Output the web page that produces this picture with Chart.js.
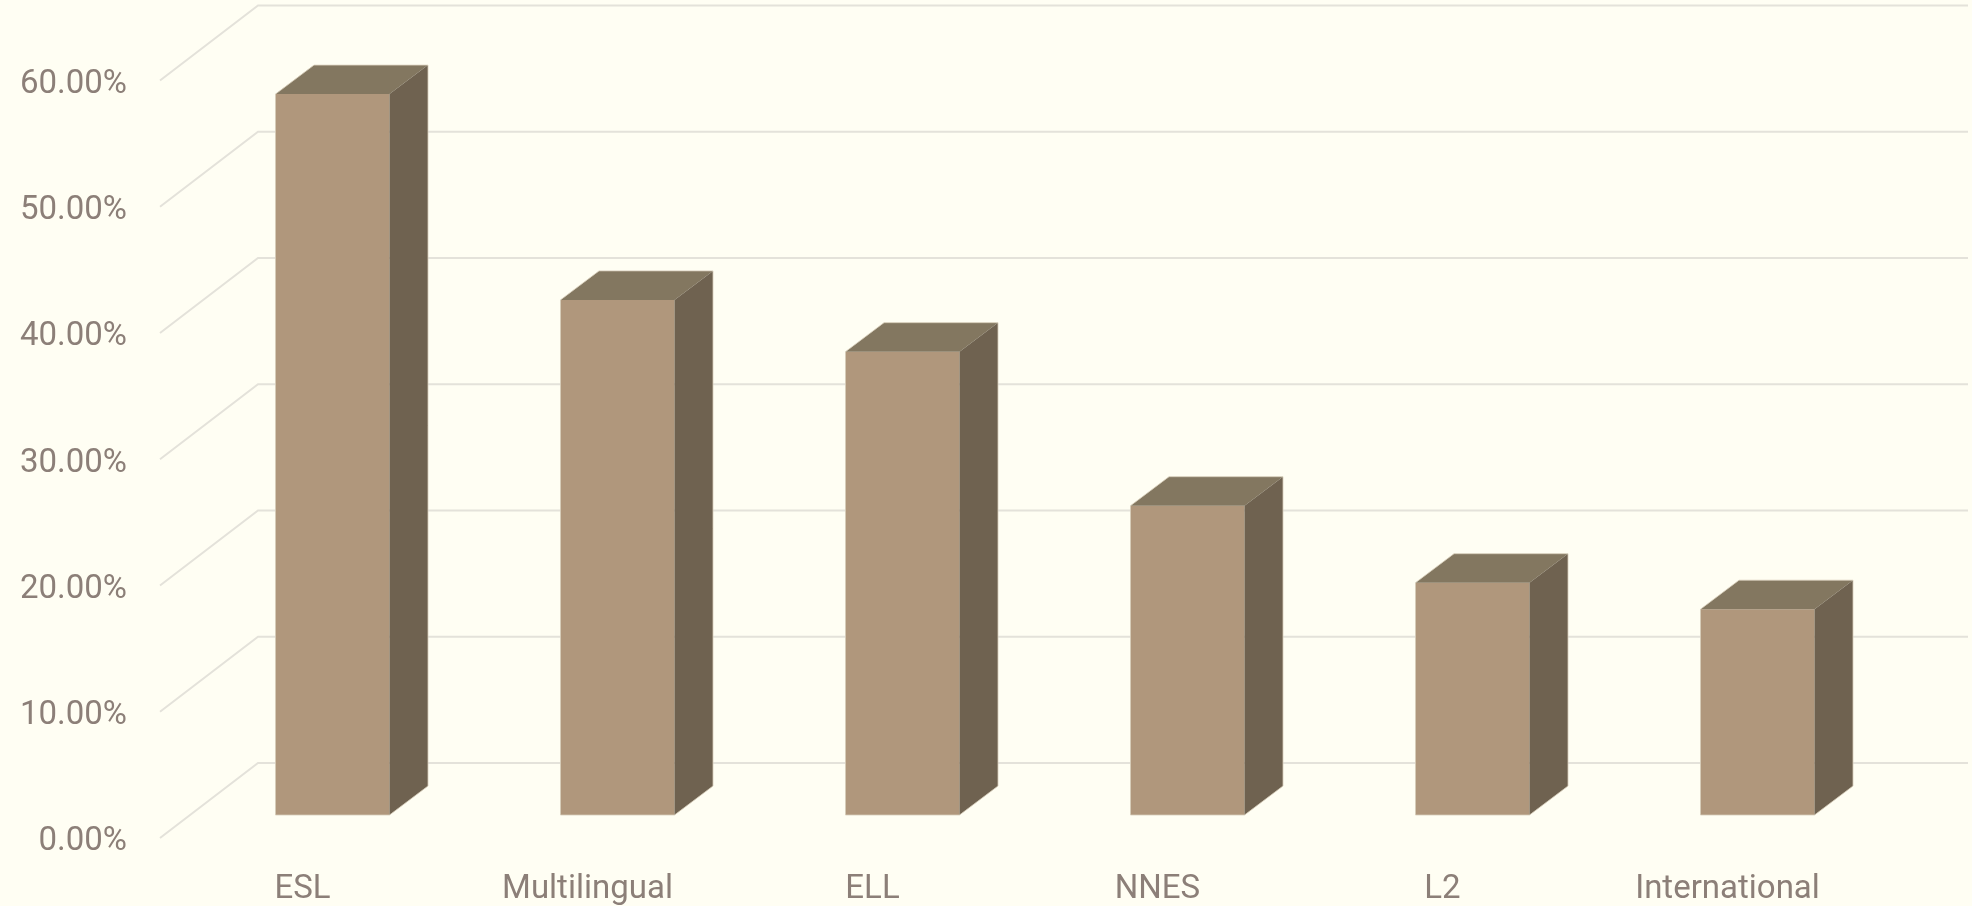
<!DOCTYPE html>
<html>
<head>
<meta charset="utf-8">
<script src="https://cdn.jsdelivr.net/npm/chart.js@4/dist/chart.umd.min.js"></script>
<style>
  html, body { margin: 0; padding: 0; background: #fffef3; }
  #wrap { width: 1972px; height: 906px; }
</style>
</head>
<body>
<div id="wrap"><canvas id="c" width="1972" height="906"></canvas></div>
<script>
// ── Données ──────────────────────────────────────────────
var categories = ['ESL', 'Multilingual', 'ELL', 'NNES', 'L2', 'International'];
var shares     = [0.571, 0.408, 0.367, 0.245, 0.184, 0.163];
var yTicks     = [0, 0.1, 0.2, 0.3, 0.4, 0.5, 0.6];

// ── Style ────────────────────────────────────────────────
var textColor  = '#8c7f78';
var gridColor  = '#e4e2da';
var frontColor = '#b0977c';
var topColor   = '#837760';
var sideColor  = '#6f6250';
var edgeColor  = 'rgba(215,205,185,0.8)';
var tickFont   = { family: 'Roboto, "Open Sans", sans-serif', size: 33, weight: 'normal' };

// décalages de profondeur (px) par rapport au plan des faces avant des barres
var depth = {
    front: { dx: -30,  dy: 23 },
    bar:   { dx: 38.5, dy: -29 },
    back:  { dx: 68,   dy: -52 }
};

// ── Plugin 3D : quadrillage oblique + faces haut / côté ──
var box3d = {
    id: 'box3d',
    beforeDatasetsDraw: function (chart) {
        var ctx = chart.ctx, a = chart.chartArea, ys = chart.scales.y;
        ctx.save();
        ctx.strokeStyle = gridColor;
        ctx.lineWidth = 2;
        ys.ticks.forEach(function (t) {
            var py = ys.getPixelForValue(t.value);
            ctx.beginPath();
            ctx.moveTo(a.left + depth.front.dx, py + depth.front.dy);
            ctx.lineTo(a.left + depth.back.dx, py + depth.back.dy);
            ctx.lineTo(a.right + depth.back.dx, py + depth.back.dy);
            ctx.stroke();
        });
        ctx.restore();
    },
    afterDatasetsDraw: function (chart) {
        var ctx = chart.ctx;
        var dx = depth.bar.dx, dy = depth.bar.dy;
        ctx.save();
        ctx.lineWidth = 1;
        ctx.strokeStyle = edgeColor;
        ctx.lineJoin = 'round';
        chart.getDatasetMeta(0).data.forEach(function (bar) {
            var p = bar.getProps(['x', 'y', 'base', 'width'], true);
            var l = p.x - p.width / 2, r = p.x + p.width / 2, t = p.y, b = p.base;

            ctx.fillStyle = topColor;
            ctx.beginPath();
            ctx.moveTo(l, t);
            ctx.lineTo(l + dx, t + dy);
            ctx.lineTo(r + dx, t + dy);
            ctx.lineTo(r, t);
            ctx.closePath();
            ctx.fill();

            ctx.fillStyle = sideColor;
            ctx.beginPath();
            ctx.moveTo(r, t);
            ctx.lineTo(r + dx, t + dy);
            ctx.lineTo(r + dx, b + dy);
            ctx.lineTo(r, b);
            ctx.closePath();
            ctx.fill();

            // liseré clair du contour
            ctx.beginPath();
            ctx.moveTo(l, b);
            ctx.lineTo(l, t);
            ctx.lineTo(l + dx, t + dy);
            ctx.lineTo(r + dx, t + dy);
            ctx.lineTo(r + dx, b + dy);
            ctx.lineTo(r, b);
            ctx.closePath();
            ctx.stroke();
        });
        ctx.restore();
    }
};

new Chart(document.getElementById('c'), {
    type: 'bar',
    data: {
        labels: categories,
        datasets: [{
            data              : shares,
            backgroundColor   : frontColor,
            borderWidth       : 0,
            barPercentage     : 0.4,
            categoryPercentage: 1
        }]
    },
    options: {
        responsive      : false,
        animation       : false,
        devicePixelRatio: 1,
        layout : { padding: { top: 57.5, right: 72, left: 0, bottom: 0 } },
        plugins: { legend: { display: false }, tooltip: { enabled: false } },
        scales : {
            x: {
                grid  : { display: false, drawTicks: false },
                border: { display: false },
                ticks : { color: textColor, font: tickFont, padding: 55, labelOffset: -30,
                          maxRotation: 0, autoSkip: false },
                afterFit: function (s) {
                    s.height = 91;
                    s.paddingLeft = 0; s.paddingRight = 0;
                }
            },
            y: {
                min: 0, max: 0.6,
                grid  : { display: false, drawTicks: false },
                border: { display: false },
                ticks : {
                    color: textColor, font: tickFont, padding: 63, labelOffset: 27,
                    callback: function (v) { return (v * 100).toFixed(2) + '%'; }
                },
                afterBuildTicks: function (s) {
                    s.ticks = yTicks.map(function (v) { return { value: v }; });
                },
                afterFit: function (s) {
                    s.width = 190;
                    s.paddingTop = 0; s.paddingBottom = 0;
                }
            }
        }
    },
    plugins: [box3d]
});
</script>
</body>
</html>
